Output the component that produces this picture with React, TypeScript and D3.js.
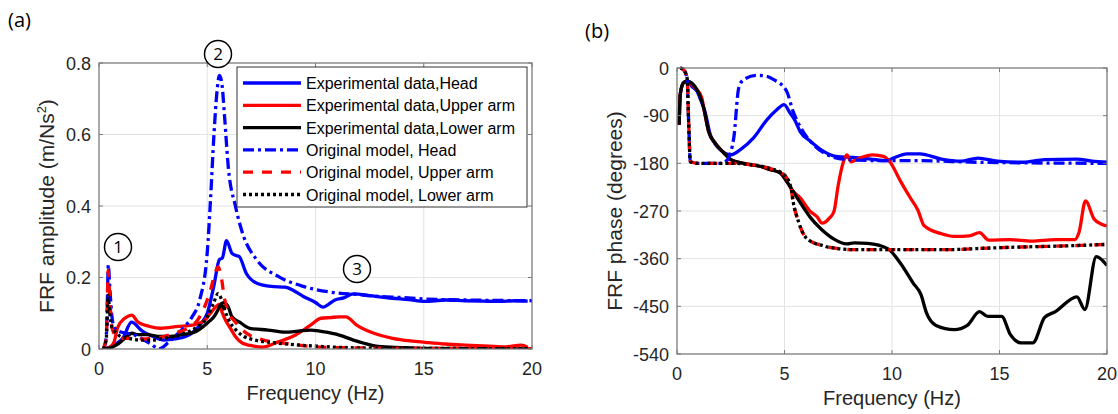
import React from "react";
import * as d3 from "d3";

// ---------- Amplitude data (Hz, m/Ns^2) ----------
const expHeadAmpF = [0.2, 0.5, 0.8, 1.1, 1.5, 2.0, 2.5, 3.0, 3.5, 4.0, 4.3, 4.7, 5.0, 5.3, 5.56, 5.7, 5.89, 6.14, 6.3, 6.47, 6.8, 7.29, 7.95, 8.6, 9.0, 9.44, 10.0, 10.35, 10.6, 10.9, 11.3, 11.75, 12.5, 13.56, 14.3, 15.05, 16.0, 16.9, 17.7, 18.5, 19.2, 19.8];
const expHeadAmpV = [0.0, 0.005, 0.015, 0.03, 0.075, 0.05, 0.035, 0.025, 0.028, 0.035, 0.045, 0.07, 0.1, 0.175, 0.25, 0.255, 0.303, 0.268, 0.262, 0.259, 0.212, 0.184, 0.175, 0.173, 0.163, 0.147, 0.13, 0.117, 0.125, 0.137, 0.143, 0.154, 0.149, 0.142, 0.138, 0.133, 0.137, 0.135, 0.134, 0.133, 0.135, 0.134];

const expUpperAmpF = [0.2, 0.5, 0.7, 0.86, 1.19, 1.52, 1.77, 2.34, 2.84, 3.66, 4.32, 4.82, 5.15, 5.35, 5.55, 5.7, 5.85, 6.05, 6.3, 6.63, 7.0, 7.54, 8.28, 9.1, 9.77, 10.26, 10.7, 11.1, 11.4, 11.9, 12.7, 13.56, 14.5, 15.2, 16.0, 16.9, 18.0, 18.8, 19.5, 19.8];
const expUpperAmpV = [0.0, 0.005, 0.02, 0.06, 0.086, 0.095, 0.077, 0.063, 0.058, 0.063, 0.067, 0.077, 0.1, 0.115, 0.125, 0.1, 0.08, 0.06, 0.035, 0.016, 0.01, 0.005, 0.02, 0.04, 0.067, 0.086, 0.088, 0.09, 0.09, 0.067, 0.044, 0.03, 0.022, 0.018, 0.014, 0.011, 0.008, 0.006, 0.011, 0.005];

const expLowerAmpF = [0.2, 0.6, 0.9, 1.2, 1.52, 1.8, 2.2, 2.84, 3.3, 3.8, 4.49, 4.82, 5.1, 5.31, 5.5, 5.64, 5.75, 5.9, 6.14, 6.5, 6.96, 7.8, 8.6, 9.2, 9.77, 10.26, 11.1, 11.75, 12.24, 12.9, 14.0, 15.0, 17.0, 20.0];
const expLowerAmpV = [0.0, 0.005, 0.015, 0.03, 0.044, 0.04, 0.04, 0.035, 0.035, 0.04, 0.049, 0.063, 0.078, 0.09, 0.11, 0.126, 0.115, 0.125, 0.09, 0.075, 0.058, 0.053, 0.047, 0.05, 0.053, 0.049, 0.039, 0.025, 0.016, 0.007, 0.004, 0.002, 0.001, 0.0];

const modHeadAmpF = [0.2, 0.33, 0.38, 0.43, 0.5, 0.6, 0.7, 0.9, 1.2, 1.6, 2.0, 2.4, 2.76, 3.2, 3.66, 4.0, 4.3, 4.65, 5.0, 5.15, 5.31, 5.45, 5.56, 5.68, 5.8, 5.97, 6.3, 6.63, 7.29, 8.28, 9.44, 10.6, 12.0, 13.0, 14.0, 15.0, 17.0, 20.0];
const modHeadAmpV = [0.0, 0.03, 0.12, 0.235, 0.17, 0.09, 0.06, 0.05, 0.045, 0.04, 0.028, 0.014, 0.0, 0.018, 0.044, 0.065, 0.09, 0.137, 0.27, 0.417, 0.6, 0.72, 0.765, 0.74, 0.65, 0.51, 0.4, 0.324, 0.249, 0.203, 0.175, 0.16, 0.152, 0.147, 0.144, 0.14, 0.137, 0.135];

const modUpperAmpF = [0.2, 0.33, 0.38, 0.42, 0.5, 0.6, 0.8, 1.0, 1.5, 2.0, 2.5, 3.0, 3.5, 4.0, 4.65, 5.15, 5.35, 5.5, 5.65, 5.8, 5.97, 6.3, 6.63, 7.6, 8.6, 10.0, 11.0, 12.0, 14.0, 20.0];
const modUpperAmpV = [0.0, 0.03, 0.12, 0.22, 0.14, 0.06, 0.035, 0.03, 0.03, 0.028, 0.03, 0.035, 0.045, 0.055, 0.09, 0.165, 0.21, 0.23, 0.2, 0.14, 0.105, 0.075, 0.053, 0.025, 0.016, 0.006, 0.004, 0.003, 0.002, 0.001];

const modLowerAmpF = [0.2, 0.33, 0.38, 0.42, 0.5, 0.6, 0.8, 1.0, 1.5, 2.0, 2.5, 3.0, 3.5, 4.0, 4.5, 5.0, 5.3, 5.5, 5.65, 5.8, 6.0, 6.3, 6.7, 7.2, 8.0, 9.0, 10.0, 11.0, 12.0, 14.0, 20.0];
const modLowerAmpV = [0.0, 0.025, 0.08, 0.15, 0.1, 0.06, 0.045, 0.035, 0.028, 0.025, 0.025, 0.03, 0.035, 0.045, 0.06, 0.09, 0.13, 0.155, 0.14, 0.11, 0.08, 0.055, 0.035, 0.025, 0.018, 0.012, 0.008, 0.005, 0.003, 0.002, 0.001];

// ---------- Phase data (Hz, degrees) ----------
const expHeadPhF = [0.1, 0.15, 0.3, 0.45, 0.7, 0.93, 1.1, 1.3, 1.55, 1.8, 2.0, 2.5, 2.95, 3.56, 4.18, 4.64, 4.98, 5.26, 5.5, 5.73, 6.2, 6.8, 7.4, 8.2, 9.0, 9.75, 10.06, 10.7, 11.3, 12.3, 13.2, 14.0, 14.9, 16.1, 17.1, 18.6, 19.3, 20.0];
const expHeadPhV = [-107, -50, -28, -25, -35, -44, -60, -82, -126, -145, -154, -164, -154, -132, -98, -79, -69, -85, -100, -120, -138, -157, -167, -169, -172, -175, -170, -162, -162, -172, -176, -170, -176, -178, -173, -172, -176, -178];

const expUpperPhF = [0.1, 0.15, 0.3, 0.45, 0.78, 0.93, 1.16, 1.24, 1.47, 1.78, 2.17, 2.5, 3.1, 3.9, 4.35, 4.8, 5.1, 5.4, 5.73, 6.2, 6.5, 6.75, 7.1, 7.3, 7.5, 7.74, 7.9, 8.1, 8.5, 9.1, 9.6, 9.9, 10.4, 10.85, 11.2, 11.5, 12.3, 12.9, 13.6, 14.07, 14.5, 15.5, 16.5, 17.6, 18.5, 18.7, 19.0, 19.4, 19.75, 20.0];
const expUpperPhV = [-107, -50, -28, -25, -35, -41, -57, -75, -120, -142, -160, -173, -180, -186, -192, -198, -214, -233, -245, -271, -280, -293, -283, -271, -221, -177, -164, -177, -170, -164, -167, -177, -214, -245, -268, -298, -313, -318, -317, -311, -325, -324, -327, -324, -324, -310, -251, -285, -295, -298];

const expLowerPhF = [0.1, 0.15, 0.3, 0.47, 0.93, 1.24, 1.47, 1.78, 2.17, 2.5, 3.1, 3.9, 4.35, 4.8, 5.1, 5.4, 5.68, 6.2, 6.7, 7.3, 7.9, 8.25, 8.87, 9.8, 10.4, 11.0, 11.35, 11.6, 12.05, 12.9, 13.5, 14.07, 14.45, 15.1, 15.5, 16.0, 16.55, 17.1, 17.6, 18.6, 18.97, 19.5, 20.0];
const expLowerPhV = [-107, -50, -28, -25, -41, -75, -120, -142, -160, -173, -180, -186, -192, -198, -214, -233, -251, -282, -304, -323, -332, -330, -331, -341, -369, -407, -428, -462, -486, -494, -486, -460, -469, -469, -503, -519, -519, -471, -460, -432, -456, -356, -373];

const modHeadPhF = [0.15, 0.3, 0.47, 0.54, 0.62, 1.0, 2.0, 2.3, 2.64, 2.87, 3.1, 3.7, 4.1, 4.5, 5.1, 5.4, 5.8, 6.35, 7.0, 7.9, 9.75, 11.3, 14.0, 20.0];
const modHeadPhV = [0, -3, -19, -100, -177, -180, -180, -175, -132, -38, -22, -14, -15, -22, -44, -82, -116, -145, -164, -173, -175, -175, -178, -180];

const modArmPhF = [0.15, 0.3, 0.47, 0.54, 0.62, 1.0, 2.5, 3.56, 4.35, 4.97, 5.3, 5.4, 5.65, 5.9, 6.35, 6.76, 7.0, 8.25, 10.0, 12.5, 14.5, 16.0, 18.0, 20.0];
const modUpperPhV = [0, -3, -19, -100, -177, -180, -180, -183, -190, -201, -226, -252, -290, -315, -330, -335, -338, -343, -343, -343, -340, -338, -336, -333];
const modLowerPhV = [0, -3, -19, -100, -177, -180, -180, -183, -190, -201, -226, -252, -290, -315, -330, -335, -338, -343, -343, -343, -340, -338, -336, -333];

// ---------- Ticks & labels ----------
const freqTicks = [0, 5, 10, 15, 20];
const ampTicks = [0, 0.2, 0.4, 0.6, 0.8];
const phaseTicks = [0, -90, -180, -270, -360, -450, -540];
const legendLabels = [
  "Experimental data,Head",
  "Experimental data,Upper arm",
  "Experimental data,Lower arm",
  "Original model, Head",
  "Original model, Upper arm",
  "Original model, Lower arm",
];

const BLUE = "#0000ff";
const RED = "#ff0000";
const BLACK = "#000000";
const styles = [
  { color: BLUE, dash: "none" },
  { color: RED, dash: "none" },
  { color: BLACK, dash: "none" },
  { color: BLUE, dash: "11,4,3,4" },
  { color: RED, dash: "10,9" },
  { color: BLACK, dash: "3,3" },
];

const FONT = "'Liberation Sans', Arial, Helvetica, sans-serif";
const TXT = "#262626";
const LW = 3.3;

function zip(f: number[], v: number[]) {
  return f.map((x, i) => [x, v[i]] as [number, number]);
}

type PanelProps = {
  x0: number; x1: number; y0: number; y1: number;
  yDomain: [number, number];
  yTicks: number[];
  yFmt: (v: number) => string;
  series: [number, number][][];
  clipId: string;
};

function Panel({ x0, x1, y0, y1, yDomain, yTicks, yFmt, series, clipId }: PanelProps) {
  const xs = d3.scaleLinear().domain([0, 20]).range([x0, x1]);
  const ys = d3.scaleLinear().domain(yDomain).range([y1, y0]);
  const line = d3.line<[number, number]>().x(d => xs(d[0])).y(d => ys(d[1])).curve(d3.curveMonotoneX);
  return (
    <g>
      <defs>
        <clipPath id={clipId}>
          <rect x={x0} y={y0 - 2} width={x1 - x0} height={y1 - y0 + 2} />
        </clipPath>
      </defs>
      <rect x={x0} y={y0} width={x1 - x0} height={y1 - y0} fill="#fff" />
      {freqTicks.map(t => (
        <line key={"gx" + t} x1={xs(t)} x2={xs(t)} y1={y0} y2={y1} stroke="#e3e3e3" strokeWidth={1} />
      ))}
      {yTicks.map(t => (
        <line key={"gy" + t} x1={x0} x2={x1} y1={ys(t)} y2={ys(t)} stroke="#e3e3e3" strokeWidth={1} />
      ))}
      <g clipPath={`url(#${clipId})`}>
        {series.map((s, i) => (
          <path key={i} d={line(s) || ""} fill="none" stroke={styles[i].color} strokeWidth={LW}
            strokeDasharray={styles[i].dash} strokeLinejoin="round" />
        ))}
      </g>
      <rect x={x0} y={y0} width={x1 - x0} height={y1 - y0} fill="none" stroke="#7a7a7a" strokeWidth={1.2} />
      {freqTicks.map(t => (
        <g key={"tx" + t}>
          <line x1={xs(t)} x2={xs(t)} y1={y1} y2={y1 - 4} stroke="#7a7a7a" />
          <line x1={xs(t)} x2={xs(t)} y1={y0} y2={y0 + 4} stroke="#7a7a7a" />
          <text x={xs(t)} y={y1 + 26} textAnchor="middle" fontSize={18} fill={TXT} fontFamily={FONT}>{t}</text>
        </g>
      ))}
      {yTicks.map(t => (
        <g key={"ty" + t}>
          <line x1={x0} x2={x0 + 4} y1={ys(t)} y2={ys(t)} stroke="#7a7a7a" />
          <line x1={x1} x2={x1 - 4} y1={ys(t)} y2={ys(t)} stroke="#7a7a7a" />
          <text x={x0 - 8} y={ys(t) + 6.5} textAnchor="end" fontSize={18} fill={TXT} fontFamily={FONT}>{yFmt(t)}</text>
        </g>
      ))}
      <text x={(x0 + x1) / 2} y={y1 + 51} textAnchor="middle" fontSize={20} fill={TXT} fontFamily={FONT}>Frequency (Hz)</text>
    </g>
  );
}

function Circled({ cx, cy, n }: { cx: number; cy: number; n: string }) {
  return (
    <g>
      <circle cx={cx} cy={cy} r={13.5} fill="#fff" stroke="#000" strokeWidth={1.5} />
      <text x={cx} y={cy + 6} textAnchor="middle" fontSize={17} fontFamily="'Open Sans', sans-serif" fill="#000">{n}</text>
    </g>
  );
}

export default function App() {
  const ampSeries = [
    zip(expHeadAmpF, expHeadAmpV),
    zip(expUpperAmpF, expUpperAmpV),
    zip(expLowerAmpF, expLowerAmpV),
    zip(modHeadAmpF, modHeadAmpV),
    zip(modUpperAmpF, modUpperAmpV),
    zip(modLowerAmpF, modLowerAmpV),
  ];
  const phSeries = [
    zip(expHeadPhF, expHeadPhV),
    zip(expUpperPhF, expUpperPhV),
    zip(expLowerPhF, expLowerPhV),
    zip(modHeadPhF, modHeadPhV),
    zip(modArmPhF, modUpperPhV),
    zip(modArmPhF, modLowerPhV),
  ];
  const L = { x0: 99, x1: 532, y0: 63, y1: 349 };
  const R = { x0: 677, x1: 1107, y0: 68, y1: 354 };
  const lg = { x: 237, y: 67, w: 290, h: 140 };
  return (
    <svg width={1118} height={414} style={{ position: "absolute", left: 0, top: 0, background: "#fff" }}>
      <rect x={0} y={0} width={1118} height={414} fill="#fff" />
      <text x={8} y={27} fontSize={20} fontFamily="'Open Sans', sans-serif" fill="#000">(a)</text>
      <text x={585} y={38} fontSize={20} fontFamily="'Open Sans', sans-serif" fill="#000">(b)</text>

      <Panel {...L} yDomain={[0, 0.8]} yTicks={ampTicks} yFmt={v => (v === 0 ? "0" : v.toFixed(1))}
        series={ampSeries} clipId="clipA" />
      <Panel {...R} yDomain={[-540, 0]} yTicks={phaseTicks} yFmt={v => String(v)}
        series={phSeries} clipId="clipB" />

      <text transform={`translate(54,${(L.y0 + L.y1) / 2}) rotate(-90)`} textAnchor="middle" fontSize={21} fill={TXT} fontFamily={FONT}>
        FRF amplitude (m/Ns<tspan dy={-8} fontSize={13}>2</tspan><tspan dy={8}>)</tspan>
      </text>
      <text transform={`translate(622,${(R.y0 + R.y1) / 2}) rotate(-90)`} textAnchor="middle" fontSize={21} fill={TXT} fontFamily={FONT}>
        FRF phase (degrees)
      </text>

      {/* Legend */}
      <rect x={lg.x} y={lg.y} width={lg.w} height={lg.h} fill="#fff" stroke="#333" strokeWidth={1} />
      {legendLabels.map((lab, i) => {
        const yy = lg.y + 16 + i * 22.3;
        return (
          <g key={lab}>
            <line x1={lg.x + 6} x2={lg.x + 64} y1={yy} y2={yy} stroke={styles[i].color} strokeWidth={LW}
              strokeDasharray={styles[i].dash} />
            <text x={lg.x + 69} y={yy + 6} fontSize={16} fill="#000" fontFamily={FONT}>{lab}</text>
          </g>
        );
      })}

      <Circled cx={118} cy={247} n="1" />
      <Circled cx={218} cy={54} n="2" />
      <Circled cx={357} cy={269} n="3" />
    </svg>
  );
}
